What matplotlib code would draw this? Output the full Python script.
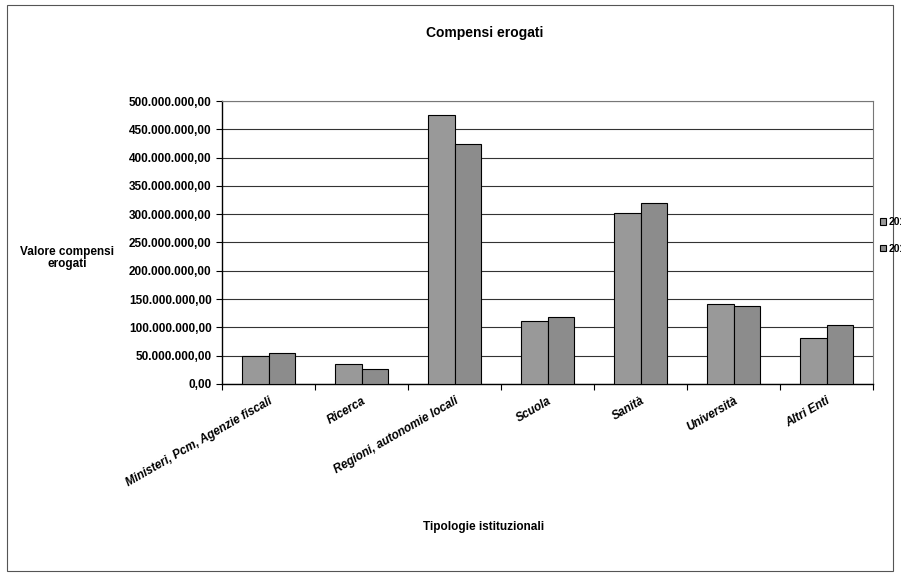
import numpy as np
import matplotlib
matplotlib.use("Agg")
import matplotlib.pyplot as plt
from matplotlib.ticker import FuncFormatter, MultipleLocator

categories = ['Ministeri, Pcm, Agenzie fiscali', 'Ricerca', 'Regioni, autonomie locali',
              'Scuola', 'Sanità', 'Università', 'Altri Enti']
serie_a = [50.0e6, 35.0e6, 475.0e6, 110.5e6, 302.0e6, 140.5e6, 82.0e6]
serie_b = [55.0e6, 27.0e6, 423.5e6, 117.5e6, 320.5e6, 137.5e6, 105.0e6]
labels = ['2010', '2011']

plt.rcParams['font.family'] = ['Liberation Sans', 'DejaVu Sans']

fig = plt.figure(figsize=(9.01, 5.74), dpi=100)
ax = fig.add_axes([222/901, 1-384/574, 651/901, 283/574])

x = np.arange(len(categories))
w = 0.29
ax.bar(x - w/2, serie_a, w, color='#999999', edgecolor='black', linewidth=0.8, label=labels[0], zorder=3)
ax.bar(x + w/2, serie_b, w, color='#8c8c8c', edgecolor='black', linewidth=0.8, label=labels[1], zorder=3)

ax.set_xlim(-0.5, len(categories) - 0.5)
ax.set_ylim(0, 500e6)
ax.yaxis.set_major_locator(MultipleLocator(50e6))

def fmt(v, pos):
    s = '{:,.2f}'.format(v)
    return s.replace(',', 'X').replace('.', ',').replace('X', '.')

ax.yaxis.set_major_formatter(FuncFormatter(fmt))
ax.grid(axis='y', color='#333333', linewidth=0.8, zorder=0)

ax.set_xticks(np.arange(len(categories) + 1) - 0.5, minor=False)
ax.set_xticklabels([])
ax.set_xticks(x, minor=True)
ax.set_xticklabels(categories, minor=True, rotation=30, ha='right', rotation_mode='anchor',
                   fontsize=8.5, fontweight='bold', style='italic')
ax.tick_params(axis='x', which='minor', length=0, pad=8)
ax.tick_params(axis='x', which='major', length=4, direction='out')
ax.tick_params(axis='y', labelsize=8.5, length=4)
for t in ax.get_yticklabels():
    t.set_fontweight('bold')

for side in ['top', 'right']:
    ax.spines[side].set_color('#777777')
    ax.spines[side].set_linewidth(0.8)
for side in ['left', 'bottom']:
    ax.spines[side].set_color('black')
    ax.spines[side].set_linewidth(1.0)

fig.text(485/901, 1-33/574, 'Compensi erogati', ha='center', va='center', fontsize=10, fontweight='bold')
fig.text(67/901, 1-258/574, 'Valore compensi\nerogati', ha='center', va='center', fontsize=8.5,
         fontweight='bold', linespacing=1.0)
fig.text(484/901, 1-527/574, 'Tipologie istituzionali', ha='center', va='center', fontsize=8.5,
         fontweight='bold')

# legend sits at the right edge, partly cut off as in the original
leg = fig.legend(loc='upper left', bbox_to_anchor=(876/901, 1-213/574), frameon=False,
                 fontsize=7.5, handlelength=0.6, handleheight=0.6, handletextpad=0.2,
                 labelspacing=1.6, borderaxespad=0)
for t in leg.get_texts():
    t.set_fontweight('bold')

border = plt.Rectangle((7/901, 3/574), 886/901, 566/574, transform=fig.transFigure,
                       fill=False, edgecolor='#555555', linewidth=0.8)
fig.patches.append(border)

fig.savefig('out.png', dpi=100)
